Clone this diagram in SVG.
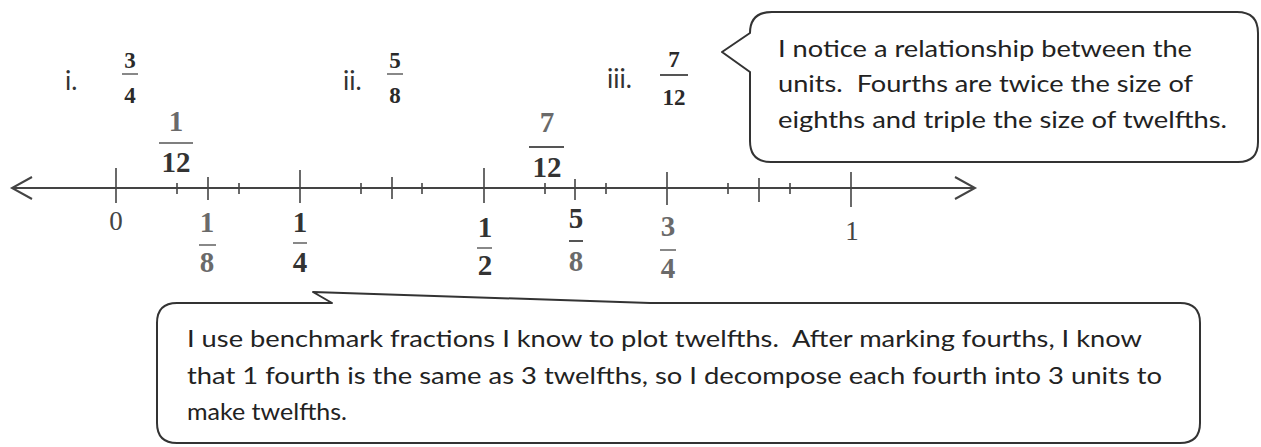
<svg xmlns="http://www.w3.org/2000/svg" width="1261" height="447" viewBox="0 0 1261 447">
<style>
.bg{fill:#ffffff}
.callout{fill:#ffffff;stroke:#333333;stroke-width:2;stroke-linejoin:round}
.ct{font-family:Lato,"Open Sans","Liberation Sans",sans-serif;font-size:24px;fill:#222222;white-space:pre}
.axis{stroke:#444444;stroke-width:2;fill:none}
.tick{stroke:#444444;stroke-width:1.6}
.fr{font-family:"Liberation Serif","DejaVu Serif",serif;font-weight:bold;font-size:29px;fill:#333333;text-anchor:middle}
.frs{font-family:"Liberation Serif","DejaVu Serif",serif;font-weight:bold;font-size:23px;fill:#2a2a2a;text-anchor:middle}
.lt{fill:#6a6a6a}
.bar{stroke:#555555;stroke-width:1.4}
.num{font-family:"Liberation Serif","DejaVu Serif",serif;font-size:27px;fill:#444444;text-anchor:middle}
.lab{font-family:Lato,"Open Sans","Liberation Sans",sans-serif;font-size:26px;fill:#333333}
</style>
<rect class="bg" x="0" y="0" width="1261" height="447"/>

<g id="problems">
  <g id="problem-i">
    <text class="lab" x="65" y="90">i.</text>
    <text class="frs" x="130" y="68">3</text>
    <line class="bar" x1="122" y1="74" x2="138" y2="74"/>
    <text class="frs" x="130" y="103">4</text>
  </g>
  <g id="problem-ii">
    <text class="lab" x="343" y="90">ii.</text>
    <text class="frs" x="395" y="68">5</text>
    <line class="bar" x1="387" y1="74" x2="403" y2="74"/>
    <text class="frs" x="395" y="103">8</text>
  </g>
  <g id="problem-iii">
    <text class="lab" x="607" y="88">iii.</text>
    <text class="frs" x="674" y="67">7</text>
    <line class="bar" x1="660" y1="75" x2="688" y2="75" style="stroke-width:2"/>
    <text class="frs" x="674" y="105">12</text>
  </g>
</g>

<g id="callout-relationship">
  <path class="callout" d="M772 12 H1237 Q1258 12 1258 33 V142 Q1258 162 1238 162 H771 Q750 162 750 141 V72 L722 52 L750 33 Q750 12 772 12 Z"/>
  <text class="ct" x="778" y="57" textLength="414" lengthAdjust="spacingAndGlyphs">I notice a relationship between the</text>
  <text class="ct" x="778" y="92" textLength="415" lengthAdjust="spacingAndGlyphs" xml:space="preserve">units.  Fourths are twice the size of</text>
  <text class="ct" x="778" y="128" textLength="449" lengthAdjust="spacingAndGlyphs">eighths and triple the size of twelfths.</text>
</g>

<g id="number-line">
  <path class="axis" d="M12 188 H975"/>
  <path class="axis" d="M32 177 L12 188 L32 199"/>
  <path class="axis" d="M955 177 L975 188 L955 199"/>
  <g id="ticks-major">
    <line class="tick" x1="116" y1="168" x2="116" y2="203"/>
    <line class="tick" x1="300" y1="170" x2="300" y2="203"/>
    <line class="tick" x1="484" y1="168" x2="484" y2="203"/>
    <line class="tick" x1="667" y1="172" x2="667" y2="205"/>
    <line class="tick" x1="851" y1="172" x2="851" y2="207"/>
  </g>
  <g id="ticks-eighths">
    <line class="tick" x1="208" y1="177" x2="208" y2="200"/>
    <line class="tick" x1="392" y1="177" x2="392" y2="199"/>
    <line class="tick" x1="575" y1="179" x2="575" y2="200"/>
    <line class="tick" x1="759" y1="178" x2="759" y2="202"/>
  </g>
  <g id="ticks-twelfths">
    <line class="tick" x1="177" y1="183" x2="177" y2="194"/>
    <line class="tick" x1="239" y1="183" x2="239" y2="194"/>
    <line class="tick" x1="361" y1="183" x2="361" y2="194"/>
    <line class="tick" x1="422" y1="183" x2="422" y2="194"/>
    <line class="tick" x1="545" y1="183" x2="545" y2="194"/>
    <line class="tick" x1="606" y1="183" x2="606" y2="194"/>
    <line class="tick" x1="728" y1="183" x2="728" y2="194"/>
    <line class="tick" x1="790" y1="183" x2="790" y2="194"/>
  </g>
</g>

<g id="label-1-12">
  <text class="fr lt" x="176" y="131">1</text>
  <line class="bar" x1="159" y1="143" x2="193" y2="143"/>
  <text class="fr" x="176" y="172">12</text>
</g>
<g id="label-7-12">
  <text class="fr lt" x="547" y="132">7</text>
  <line class="bar" x1="529" y1="147" x2="564" y2="147" style="stroke-width:2.2"/>
  <text class="fr" x="547" y="177">12</text>
</g>

<g id="label-0"><text class="num" x="116" y="230">0</text></g>
<g id="label-1-8">
  <text class="fr lt" x="207" y="232">1</text>
  <line class="bar" x1="199" y1="245" x2="216" y2="245"/>
  <text class="fr lt" x="207" y="272">8</text>
</g>
<g id="label-1-4">
  <text class="fr" x="300" y="232">1</text>
  <line class="bar" x1="293" y1="243" x2="307" y2="243"/>
  <text class="fr" x="300" y="272">4</text>
</g>
<g id="label-1-2">
  <text class="fr" x="485" y="237">1</text>
  <line class="bar" x1="477" y1="248" x2="492" y2="248"/>
  <text class="fr" x="485" y="275">2</text>
</g>
<g id="label-5-8">
  <text class="fr" x="576" y="228">5</text>
  <line class="bar" x1="569" y1="241" x2="583" y2="241" style="stroke-width:2"/>
  <text class="fr lt" x="576" y="271">8</text>
</g>
<g id="label-3-4">
  <text class="fr lt" x="668" y="236">3</text>
  <line class="bar" x1="660" y1="250" x2="676" y2="250"/>
  <text class="fr lt" x="668" y="278">4</text>
</g>
<g id="label-1"><text class="num" x="852" y="240">1</text></g>

<g id="callout-benchmark">
  <path class="callout" d="M177 303 H332 L313 292 L650 303 H1180 Q1200 303 1200 323 V423 Q1200 443 1180 443 H177 Q157 443 157 423 V323 Q157 303 177 303 Z"/>
  <text class="ct" x="187" y="347" textLength="955" lengthAdjust="spacingAndGlyphs" xml:space="preserve">I use benchmark fractions I know to plot twelfths.  After marking fourths, I know</text>
  <text class="ct" x="187" y="384" textLength="975" lengthAdjust="spacingAndGlyphs">that 1 fourth is the same as 3 twelfths, so I decompose each fourth into 3 units to</text>
  <text class="ct" x="187" y="420" textLength="160" lengthAdjust="spacingAndGlyphs">make twelfths.</text>
</g>

<g id="connectors"></g>
</svg>
